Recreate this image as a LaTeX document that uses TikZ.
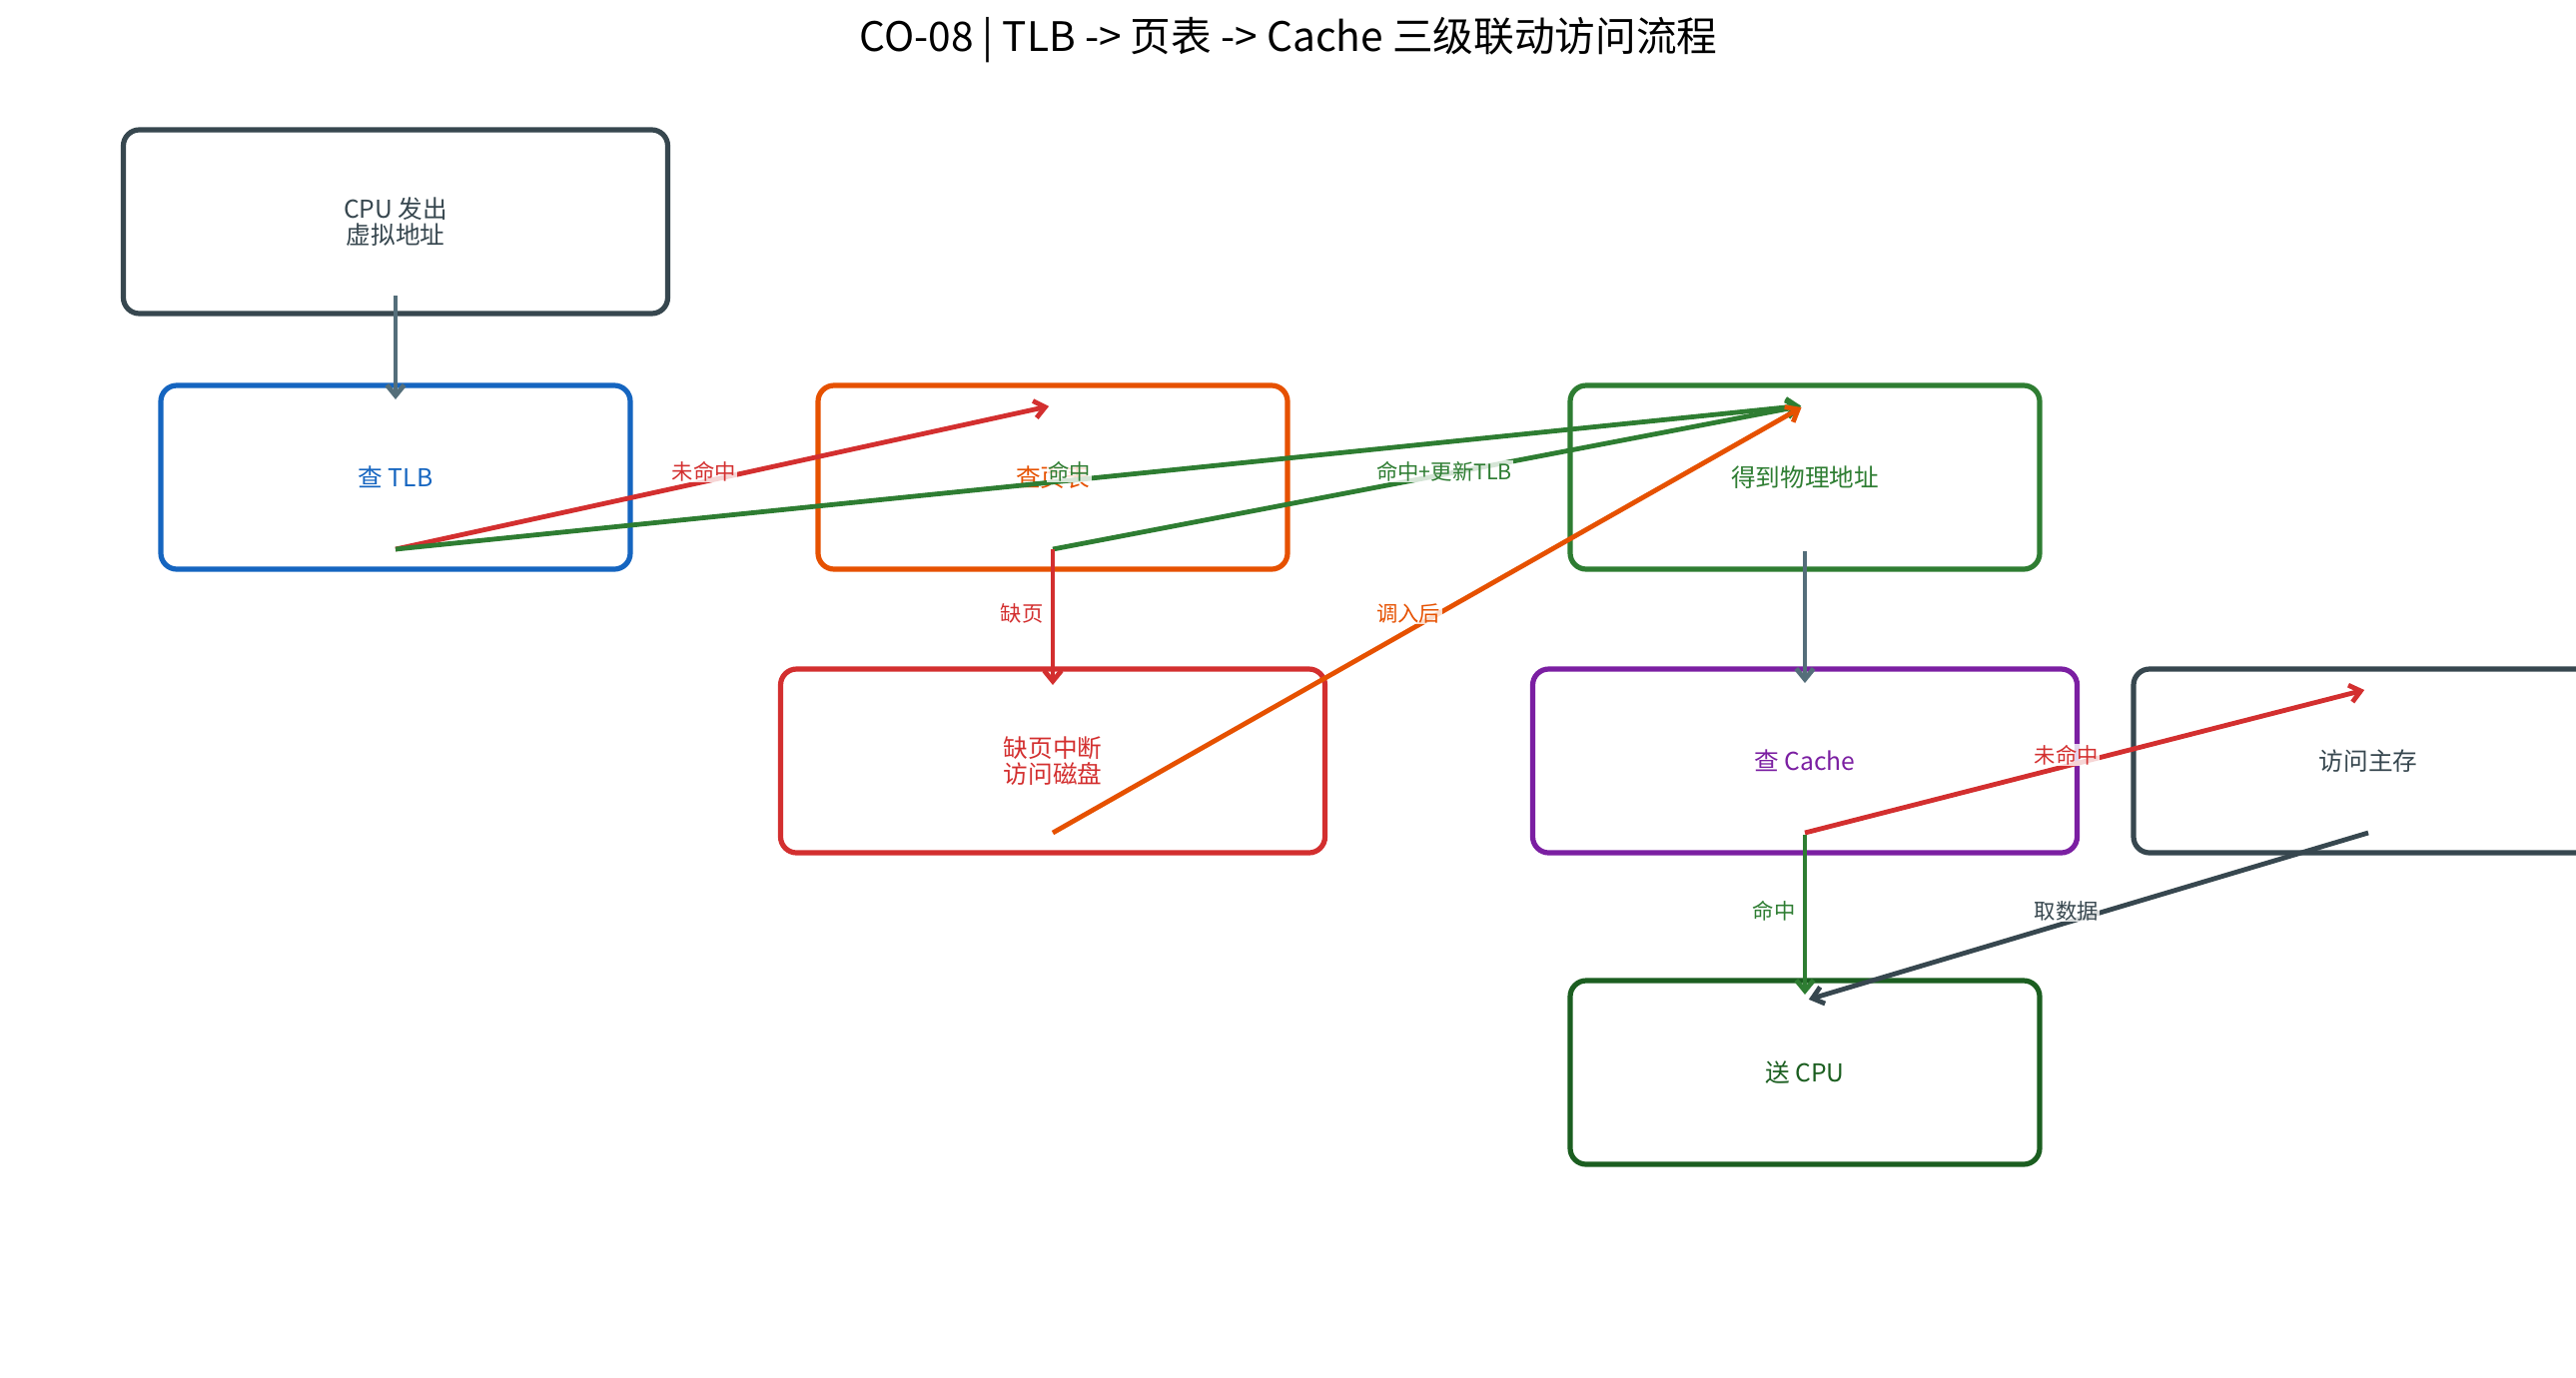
\documentclass[tikz,border=0pt]{standalone}
\usepackage{fontspec}
\setmainfont{Noto Sans CJK SC}
\usetikzlibrary{arrows.meta,calc}
\definecolor{cpuc}{HTML}{37474F}
\definecolor{tlbc}{HTML}{1565C0}
\definecolor{ptc}{HTML}{E65100}
\definecolor{physc}{HTML}{2E7D32}
\definecolor{faultc}{HTML}{D32F2F}
\definecolor{cachec}{HTML}{7B1FA2}
\definecolor{sendc}{HTML}{1B5E20}
\definecolor{flowc}{HTML}{546E7A}
\definecolor{hitc}{HTML}{2E7D32}
\definecolor{missc}{HTML}{D32F2F}
\tikzset{
  box/.style={draw=#1, text=#1, rounded corners=12pt, line width=3.9pt,
    minimum height=138pt, align=center, inner sep=0pt,
    font=\fontsize{18.5pt}{19.5pt}\selectfont},
  wide/.style={minimum width=408.75pt},
  narrow/.style={minimum width=352.5pt},
  edge/.style={draw=#1, line width=3.6pt,
    -{Straight Barb[length=8pt,width=13pt]}, shorten >=3pt},
  lbl/.style={text=#1, font=\fontsize{16pt}{17pt}\selectfont,
    fill=white, fill opacity=0.8, text opacity=1, inner sep=1pt,
    anchor=west, xshift=-42pt, yshift=4.5pt}
}
\begin{document}
\begin{tikzpicture}[x=0.75pt,y=-0.75pt]
\useasboundingbox (0,0) rectangle (2579,1379);
\clip (0,0) rectangle (2579,1379);
\fill[white] (0,0) rectangle (2579,1379);

\node[font=\fontsize{30.5pt}{31pt}\selectfont] (title) at (1290,40)
  {CO-08 | TLB -> 页表 -> Cache 三级联动访问流程};

\node[box=cpuc, wide] (cpu) at (396,222) {CPU 发出\\虚拟地址};
\node[box=tlbc, narrow] (tlb) at (396,478) {查 TLB};
\node[box=ptc, narrow] (pt) at (1054,478) {查页表};
\node[box=physc, narrow] (phys) at (1807,478) {得到物理地址};
\node[box=faultc, wide] (fault) at (1054,762) {缺页中断\\访问磁盘};
\node[box=cachec, wide] (cache) at (1807,762) {查 Cache};
\node[box=cpuc, narrow] (mem) at (2371,762) {访问主存};
\node[box=sendc, narrow] (send) at (1807,1074) {送 CPU};

\draw[edge=flowc] ($(cpu.center)+(0,74)$) -- ($(tlb.center)+(0,-74)$);
\draw[edge=missc] ($(tlb.center)+(0,72)$) -- ($(pt.center)+(0,-72)$)
  node[lbl=missc, pos=0.5] {未命中};
\draw[edge=hitc] ($(tlb.center)+(0,72)$) -- ($(phys.center)+(0,-72)$)
  node[lbl=hitc, pos=0.5] {命中};
\draw[edge=hitc] ($(pt.center)+(0,72)$) -- ($(phys.center)+(0,-72)$)
  node[lbl=hitc, pos=0.5] {命中+更新TLB};
\draw[edge=missc] ($(pt.center)+(0,72)$) -- ($(fault.center)+(0,-72)$)
  node[lbl=missc, pos=0.5] {缺页};
\draw[edge=ptc] ($(fault.center)+(0,72)$) -- ($(phys.center)+(0,-72)$)
  node[lbl=ptc, pos=0.5] {调入后};
\draw[edge=flowc] ($(phys.center)+(0,74)$) -- ($(cache.center)+(0,-74)$);
\draw[edge=missc] ($(cache.center)+(0,72)$) -- ($(mem.center)+(0,-72)$)
  node[lbl=missc, pos=0.5] {未命中};
\draw[edge=hitc] ($(cache.center)+(0,74)$) -- ($(send.center)+(0,-74)$)
  node[lbl=hitc, pos=0.5] {命中};
\draw[edge=cpuc] ($(mem.center)+(0,72)$) -- ($(send.center)+(0,-72)$)
  node[lbl=cpuc, pos=0.5] {取数据};
\end{tikzpicture}
\end{document}
